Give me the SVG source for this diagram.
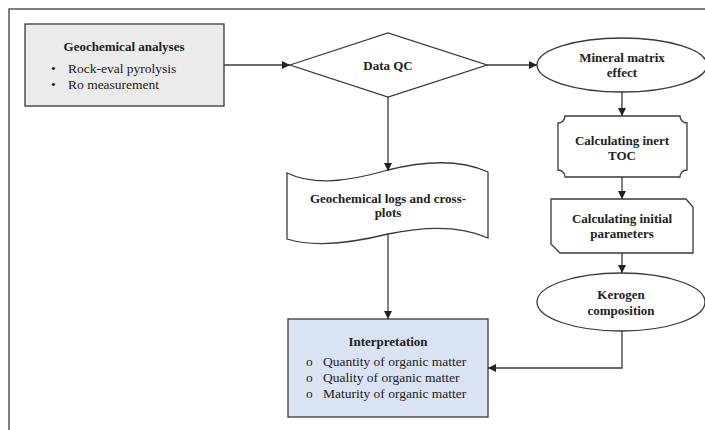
<svg xmlns="http://www.w3.org/2000/svg" width="705" height="430" viewBox="0 0 705 430">
<style>
.s{stroke:#3a3a3a;stroke-width:1.3;fill:#fff}
.c{stroke:#3a3a3a;stroke-width:1.3;fill:none}
.t{font-family:"Liberation Serif",serif;font-size:13px;font-weight:bold;fill:#222;text-anchor:middle}
.b{font-family:"Liberation Serif",serif;font-size:13.5px;fill:#222}
</style>
<defs>
<marker id="a" viewBox="0 0 10 10" refX="10" refY="5" markerWidth="8" markerHeight="8" markerUnits="userSpaceOnUse" orient="auto">
<path d="M0,0 L10,5 L0,10 z" fill="#222"/>
</marker>
</defs>
<rect width="705" height="430" fill="#fff"/>
<g id="frame"><path d="M9,430 V9 H705" fill="none" stroke="#555" stroke-width="1.5"/></g>
<g id="geochemical-analyses">
<rect x="25" y="24" width="199" height="82" fill="#ebebeb" stroke="#3a3a3a" stroke-width="1.3"/>
<text class="t" x="124" y="51">Geochemical analyses</text>
<text class="b" x="51" y="73" font-size="15">•</text><text class="b" x="68" y="73">Rock-eval pyrolysis</text>
<text class="b" x="51" y="89" font-size="15">•</text><text class="b" x="68" y="89">Ro measurement</text>
</g>
<g id="data-qc">
<path class="s" d="M290,65 L388,33 L487,65 L388,97 Z"/>
<text class="t" x="388" y="70">Data QC</text>
</g>
<g id="mineral-matrix">
<ellipse class="s" cx="622" cy="65" rx="85" ry="27"/>
<text class="t" x="622" y="62">Mineral matrix</text>
<text class="t" x="622" y="77">effect</text>
</g>
<g id="inert-toc">
<path class="s" d="M565,116 H680 A7,7 0 0 0 687,123 V170 A7,7 0 0 0 680,177 H565 A7,7 0 0 0 558,170 V123 A7,7 0 0 0 565,116 Z"/>
<text class="t" x="622" y="145">Calculating inert</text>
<text class="t" x="622" y="160">TOC</text>
</g>
<g id="initial-parameters">
<path class="s" d="M551,199 H686 L693,207 V253 H560 L551,244 Z"/>
<text class="t" x="622" y="223">Calculating initial</text>
<text class="t" x="622" y="238">parameters</text>
</g>
<g id="kerogen">
<ellipse class="s" cx="621" cy="302" rx="84" ry="29"/>
<text class="t" x="621" y="299">Kerogen</text>
<text class="t" x="621" y="315">composition</text>
</g>
<g id="logs">
<path class="s" d="M287,173 C310,184 340,184 388,170 C436,158 466,162 488,172 V238 C466,228 436,224 388,234 C340,246 310,246 287,239 Z"/>
<text class="t" x="388" y="203">Geochemical logs and cross-</text>
<text class="t" x="388" y="217">plots</text>
</g>
<g id="interpretation">
<rect x="288" y="319" width="200" height="98" fill="#dae3f3" stroke="#3a3a3a" stroke-width="1.3"/>
<text class="t" x="388" y="346">Interpretation</text>
<text class="b" x="306" y="366">o</text><text class="b" x="323" y="366">Quantity of organic matter</text>
<text class="b" x="306" y="382">o</text><text class="b" x="323" y="382">Quality of organic matter</text>
<text class="b" x="306" y="398">o</text><text class="b" x="323" y="398">Maturity of organic matter</text>
</g>
<g id="connectors">
<path class="c" d="M224,65 H290" marker-end="url(#a)"/>
<path class="c" d="M487,65 H537" marker-end="url(#a)"/>
<path class="c" d="M388,97 V171" marker-end="url(#a)"/>
<path class="c" d="M622,92 V116" marker-end="url(#a)"/>
<path class="c" d="M622,177 V199" marker-end="url(#a)"/>
<path class="c" d="M622,253 V273" marker-end="url(#a)"/>
<path class="c" d="M622,331 V368 H488" marker-end="url(#a)"/>
<path class="c" d="M388,234 V319" marker-end="url(#a)"/>
</g>
</svg>
